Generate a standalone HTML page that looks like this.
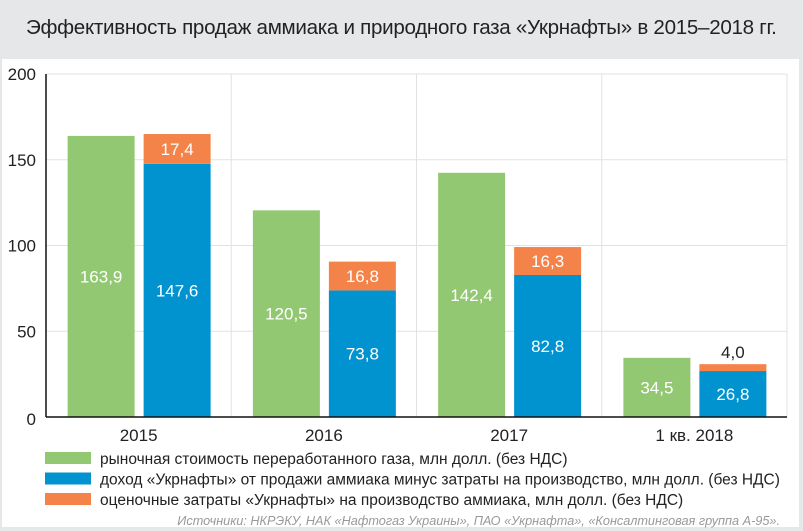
<!DOCTYPE html>
<html><head><meta charset="utf-8"><style>
body{margin:0;width:803px;height:531px;background:#e6e7e9;font-family:"Liberation Sans","Noto Sans CJK SC",sans-serif;overflow:hidden}
#title{position:absolute;left:26px;top:16px;font-size:20.6px;color:#222;letter-spacing:-0.3px;white-space:nowrap}
#panel{position:absolute;left:2px;top:59px;width:797px;height:468px;background:#fff}
svg{position:absolute;left:0;top:0}
</style></head><body>
<div id="title">Эффективность продаж аммиака и природного газа «Укрнафты» в 2015–2018 гг.</div>
<div id="panel"></div>
<svg id="chart" width="803" height="531"></svg>
<script>
const categories=["2015","2016","2017","1 кв. 2018"];
const marketValue=[163.9,120.5,142.4,34.5];
const income=[147.6,73.8,82.8,26.8];
const costs=[17.4,16.8,16.3,4.0];
const yTicks=[0,50,100,150,200];
const legendLabels=["рыночная стоимость переработанного газа, млн долл. (без НДС)","доход «Укрнафты» от продажи аммиака минус затраты на производство, млн долл. (без НДС)","оценочные затраты «Укрнафты» на производство аммиака, млн долл. (без НДС)"];
const colors=["#93c873","#0093cf","#f4834a"];
const NS="http://www.w3.org/2000/svg";
const svg=document.getElementById('chart');
const x0=46,x1=787,y0=417,y1=74,yMax=200;
const catW=(x1-x0)/categories.length;
const Y=v=>y0-(v/yMax)*(y0-y1);
const X=i=>x0+i*catW;
function el(t,a,txt){const e=document.createElementNS(NS,t);for(const k in a)e.setAttribute(k,a[k]);if(txt!=null)e.textContent=txt;svg.appendChild(e);return e;}
yTicks.forEach(t=>{
 if(t>0){const g=el('line',{x1:x0,x2:x1,y1:Y(t),y2:Y(t),stroke:'#e2e2e2','stroke-width':1});
 
 }
 const l=el('text',{x:36,y:t===0?Y(t)+8:Y(t)+6,'text-anchor':'end','font-size':17,fill:'#222'},String(t));
 
 
});
for(let i=1;i<=categories.length;i++){
 const g=el('line',{x1:X(i),x2:X(i),y1:y1,y2:y0,stroke:'#e2e2e2','stroke-width':1});
 
 
}
categories.forEach((c,i)=>{
 const cx=X(i)+catW/2;
 const gx=cx-71,bx=cx+5,w=67;
 const gr=el('rect',{x:gx,y:Y(marketValue[i]),width:w,height:y0-Y(marketValue[i]),fill:colors[0]});
 
 
 const br=el('rect',{x:bx,y:Y(income[i]),width:w,height:y0-Y(income[i]),fill:colors[1]});
 
 
 const or=el('rect',{x:bx,y:Y(income[i]+costs[i]),width:w,height:Y(income[i])-Y(income[i]+costs[i]),fill:colors[2]});
 
 
 const small=costs[i]<8;
 const lbls=[[gx+w/2,(Y(marketValue[i])+y0)/2+6,marketValue[i],'#fff'],[bx+w/2,(Y(income[i])+y0)/2+6,income[i],'#fff'],[bx+w/2,small?Y(income[i]+costs[i])-6:(Y(income[i]+costs[i])+Y(income[i]))/2+6,costs[i],small?'#222':'#fff']];
 lbls.forEach(a=>{const t=el('text',{x:a[0],y:a[1],'text-anchor':'middle','font-size':17,fill:a[3]},a[2].toFixed(1).replace('.',','));
 
 });
 const cl=el('text',{x:cx,y:441,'text-anchor':'middle','font-size':17,fill:'#222'},c);
 
 
});
const ax=el('line',{x1:x0,x2:x1,y1:y0,y2:y0,stroke:'#111','stroke-width':1.5});


const ay=el('line',{x1:x0,x2:x0,y1:y1,y2:y0,stroke:'#111','stroke-width':1.5});


legendLabels.forEach((s,i)=>{
 const y=452+i*20.5;
 const r=el('rect',{x:45,y:y,width:46,height:12,fill:colors[i]});
 
 
 const t=el('text',{x:100,y:y+12,'font-size':15.5,fill:'#222'},s);
 
 
});
const src=el('text',{x:780,y:525,'text-anchor':'end','font-size':12.7,'font-style':'italic',fill:'#999'},"Источники: НКРЭКУ, НАК «Нафтогаз Украины», ПАО «Укрнафта», «Консалтинговая группа А-95».");


</script>
</body></html>
